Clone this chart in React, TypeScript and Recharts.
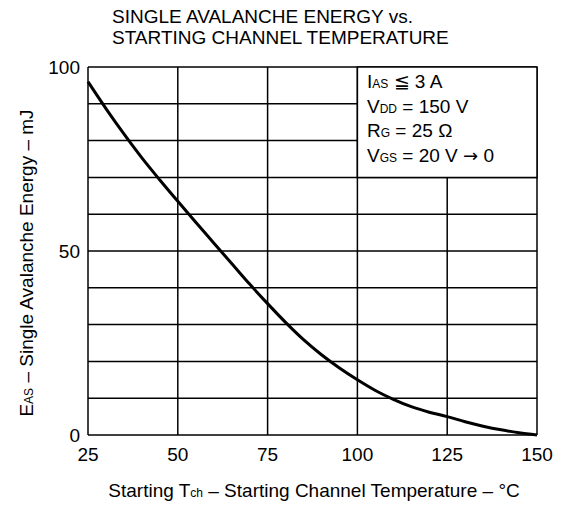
import React from "react";
import {
  LineChart,
  Line,
  XAxis,
  YAxis,
  CartesianGrid,
  ReferenceArea,
} from "recharts";

const temps = [25, 30, 35, 40, 45, 50, 55, 60, 65, 70, 75, 80, 85, 90, 95, 100, 105, 110, 115, 120, 125, 130, 135, 140, 145, 150];
const energy = [96, 88.7, 81.8, 75.3, 69.3, 63.5, 57.8, 52.2, 46.6, 41, 35.7, 30.6, 25.9, 21.8, 18.2, 15, 12.1, 9.7, 7.7, 6.2, 5, 3.6, 2.4, 1.4, 0.6, 0];
const xTicks = [25, 50, 75, 100, 125, 150];
const yTicks = [0, 10, 20, 30, 40, 50, 60, 70, 80, 90, 100];
const yLabelled = [0, 50, 100];

const data = temps.map((t, i) => ({ t, e: energy[i] }));

const FONT = "'Liberation Sans', Arial, Helvetica, sans-serif";
const sub = { fontSize: 12 };

const App = () => {
  return (
    <div style={{ position: "absolute", left: 0, top: 0, width: 562, height: 506, background: "#fff", fontFamily: FONT }}>
      <LineChart
        width={562}
        height={506}
        data={data}
        margin={{ top: 67, right: 25, bottom: 0, left: 0 }}
      >
        <CartesianGrid stroke="#000" strokeWidth={1.5} strokeOpacity={1} />
        <XAxis
          dataKey="t"
          type="number"
          domain={[25, 150]}
          ticks={xTicks}
          height={71}
          axisLine={false}
          tickLine={false}
          tickMargin={7}
          tick={{ fontSize: 19, fill: "#000", fontFamily: FONT }}
        />
        <YAxis
          type="number"
          domain={[0, 100]}
          ticks={yTicks}
          width={88}
          axisLine={false}
          tickLine={false}
          interval={0}
          tickFormatter={(v: number) => (yLabelled.includes(v) ? String(v) : "")}
          tick={{ fontSize: 19, fill: "#000", fontFamily: FONT }}
        />
        {/* condition box in the upper right corner */}
        <ReferenceArea
          x1={100}
          x2={150}
          y1={70}
          y2={100}
          fill="#fff"
          fillOpacity={1}
          stroke="#000"
          strokeWidth={1.5}
        />
        <Line
          dataKey="e"
          type="monotone"
          stroke="#000"
          strokeWidth={3}
          dot={false}
          isAnimationActive={false}
        />
      </LineChart>
      <svg
        width={562}
        height={506}
        style={{ position: "absolute", left: 0, top: 0, pointerEvents: "none" }}
        fontFamily={FONT}
        fill="#000"
      >
        <text x={112} y={23} fontSize={19}>SINGLE AVALANCHE ENERGY vs.</text>
        <text x={112} y={44} fontSize={19}>STARTING CHANNEL TEMPERATURE</text>

        <g fontSize={19}>
          <text x={367} y={88}>I<tspan {...sub}>AS</tspan> ≦ 3 A</text>
          <text x={367} y={113}>V<tspan {...sub}>DD</tspan> = 150 V</text>
          <text x={367} y={137}>R<tspan {...sub}>G</tspan> = 25 Ω</text>
          <text x={367} y={162}>
            V<tspan {...sub}>GS</tspan> = 20 V <tspan fontFamily="'DejaVu Sans', sans-serif" fontSize={18}>→</tspan> 0
          </text>
        </g>

        <text x={314} y={497} fontSize={19} textAnchor="middle">
          Starting T<tspan {...sub}>ch</tspan> – Starting Channel Temperature – °C
        </text>
        <text
          x={0}
          y={0}
          fontSize={19}
          textAnchor="middle"
          transform="translate(33 263) rotate(-90)"
        >
          E<tspan {...sub}>AS</tspan> – Single Avalanche Energy – mJ
        </text>
      </svg>
    </div>
  );
};

export default App;
